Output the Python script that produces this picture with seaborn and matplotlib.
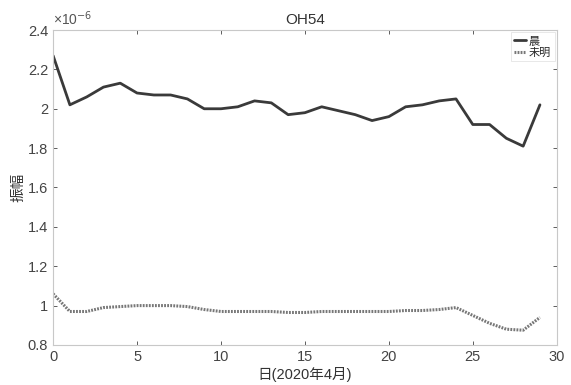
import matplotlib
matplotlib.use("Agg")
import matplotlib.pyplot as plt
import seaborn as sns
import pandas as pd
from matplotlib.ticker import FuncFormatter

days = list(range(30))
dawn = [2.27, 2.02, 2.06, 2.11, 2.13, 2.08, 2.07, 2.07, 2.05, 2.00,
        2.00, 2.01, 2.04, 2.03, 1.97, 1.98, 2.01, 1.99, 1.97, 1.94,
        1.96, 2.01, 2.02, 2.04, 2.05, 1.92, 1.92, 1.85, 1.81, 2.02]
predawn = [1.06, 0.97, 0.97, 0.99, 0.995, 1.00, 1.00, 1.00, 0.995, 0.98,
           0.97, 0.97, 0.97, 0.97, 0.965, 0.965, 0.97, 0.97, 0.97, 0.97,
           0.97, 0.975, 0.975, 0.98, 0.99, 0.95, 0.91, 0.88, 0.875, 0.94]
labels = ["晨", "未明"]
title = "OH54"
xlabel = "日(2020年4月)"
ylabel = "振幅"

sns.set_style("white")
plt.rcParams['font.family'] = ['Liberation Sans', 'Noto Sans CJK SC', 'DejaVu Sans']

fig = plt.figure(figsize=(5.71, 3.85), dpi=100)
ax = fig.add_axes([0.093, 0.104, 0.882, 0.818])

df1 = pd.DataFrame({"day": days, "v": dawn})
df2 = pd.DataFrame({"day": days, "v": predawn})
sns.lineplot(data=df1, x="day", y="v", ax=ax, color="#3a3a3a", lw=2.0, label=labels[0])
sns.lineplot(data=df2, x="day", y="v", ax=ax, color="#777777", lw=2.2,
             linestyle=(0, (0.6, 0.4)), label=labels[1])

ax.set_xlim(0, 30)
ax.set_ylim(0.8, 2.4)
ax.set_xticks(range(0, 31, 5))
ax.set_yticks([0.8, 1.0, 1.2, 1.4, 1.6, 1.8, 2.0, 2.2, 2.4])
ax.yaxis.set_major_formatter(FuncFormatter(lambda v, p: "%g" % round(v, 2)))
ax.tick_params(direction="in", length=3, labelsize=10.5, colors="#444444",
               top=True, right=True, bottom=True, left=True, width=0.6)
for s in ax.spines.values():
    s.set_color("#c8c8c8")
    s.set_linewidth(0.8)

ax.set_title(title, fontsize=11, color="#333333", pad=4)
ax.set_xlabel(xlabel, fontsize=10.5, color="#333333", labelpad=2)
ax.set_ylabel(ylabel, fontsize=10.5, color="#333333", labelpad=2)
ax.text(0.0, 1.005, "×10$^{-6}$", transform=ax.transAxes, fontsize=10,
        color="#555555", ha="left", va="bottom")

leg = ax.legend(loc="upper right", fontsize=8, frameon=True, handlelength=1.0,
                handletextpad=0.3, borderpad=0.3, labelspacing=0.2,
                fancybox=False, borderaxespad=0.2)
leg.get_frame().set_edgecolor("#dddddd")
leg.get_frame().set_linewidth(0.6)

fig.savefig("out.png", dpi=100)
